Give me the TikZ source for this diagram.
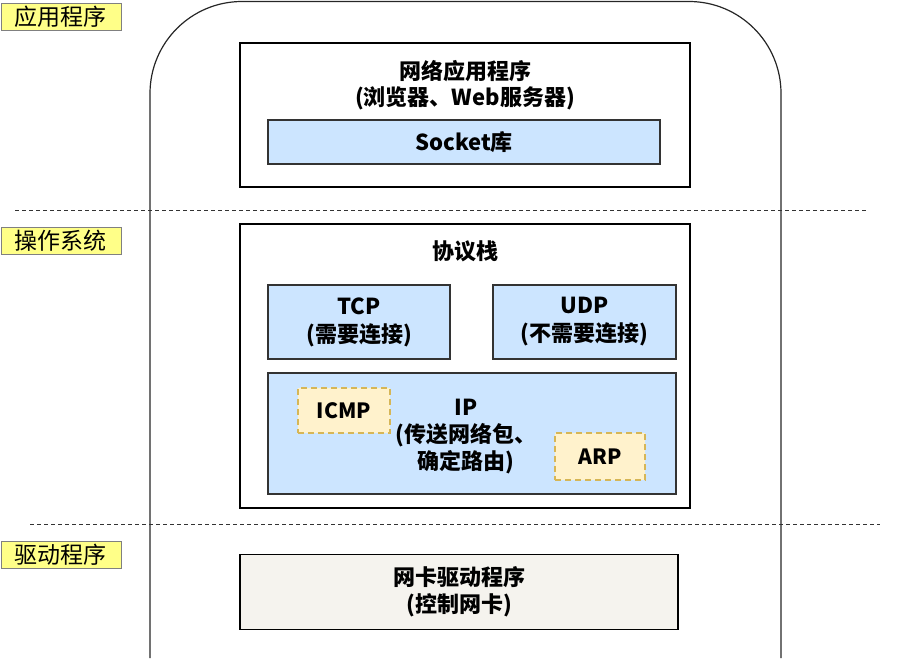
\documentclass[tikz,border=0pt]{standalone}
\usepackage{fontspec}
\setmainfont{Noto Sans CJK SC}
\usetikzlibrary{positioning}
\definecolor{tagyellow}{HTML}{FFFF88}
\definecolor{partblue}{HTML}{CCE5FF}
\definecolor{subyellow}{HTML}{FFF2CC}
\definecolor{subedge}{HTML}{D6B656}
\definecolor{drvbeige}{HTML}{F5F3EE}
\tikzset{node distance=2.0cm, auto}
\tikzset{
  tag/.style={draw=black!50, fill=tagyellow, line width=0.8pt, anchor=west,
    minimum width=120pt, minimum height=27pt, inner sep=0pt,
    font=\fontsize{23}{26}\selectfont},
  layer/.style={draw=black, line width=1.8pt, fill=white, inner sep=0pt},
  part/.style={draw=black!80, line width=1.5pt, fill=partblue, inner sep=0pt,
    align=center, font=\bfseries\fontsize{22}{28}\selectfont},
  sub/.style={draw=subedge, dashed, dash pattern=on 6pt off 4pt, line width=1.5pt,
    fill=subyellow, inner sep=0pt, font=\bfseries\fontsize{21}{24}\selectfont},
  words/.style={align=center, inner sep=0pt, font=\bfseries\fontsize{22}{27}\selectfont},
  split/.style={dashed, dash pattern=on 4pt off 3pt, line width=1pt, black!80}
}
\begin{document}
\begin{tikzpicture}[x=1pt, y=-1pt]
\useasboundingbox (0,0) rectangle (901,658);

% outer frame
\draw[black!85, line width=1.2pt, rounded corners=92pt]
  (150,658) -- (150,1.5) -- (781,1.5) -- (781,658);

% layer borders
\coordinate (s1w) at (15,210);
\coordinate (s1e) at (866,210);
\coordinate (s2w) at (30,524);
\coordinate (s2e) at (880,524);
\draw[split] (s1w) -- (s1e);
\draw[split] (s2w) -- (s2e);

\node[tag] (tapp) at (0.5,17) {应用程序};
\node[tag] (tos) at (0.5,241) {操作系统};
\node[tag] (tdrv) at (0.5,555) {驱动程序};

% application
\node[layer, minimum width=450pt, minimum height=144pt] (app) at (465,115) {};
\node[words, font=\bfseries\fontsize{22}{26}\selectfont] (apptext) at (465,85) {网络应用程序\\(浏览器、Web服务器)};
\node[part, minimum width=392pt, minimum height=44pt] (sock) at (464,142) {Socket库};

% protocol stack
\node[layer, minimum width=450pt, minimum height=284pt] (stack) at (465,366) {};
\node[words] (stacktext) at (465,251) {协议栈};
\node[part, minimum width=182pt, minimum height=74pt] (tcp) at (359,322) {TCP\\(需要连接)};
\node[part, minimum width=183pt, minimum height=74pt] (udp) at (584.5,322) {UDP\\(不需要连接)};
\node[part, minimum width=408pt, minimum height=121pt] (ip) at (472,433.5) {};
\node[words] (iptext) at (466,437) {IP\\(传送网络包、\\确定路由)};
\node[sub, minimum width=92pt, minimum height=45pt] (icmp) at (344,410.5) {ICMP};
\node[sub, minimum width=90pt, minimum height=47pt] (arp) at (600,456.5) {ARP};

% driver
\node[layer, fill=drvbeige, line width=1.6pt, minimum width=438pt, minimum height=75pt,
  words] (drv) at (459,592) {网卡驱动程序\\(控制网卡)};
\end{tikzpicture}
\end{document}
